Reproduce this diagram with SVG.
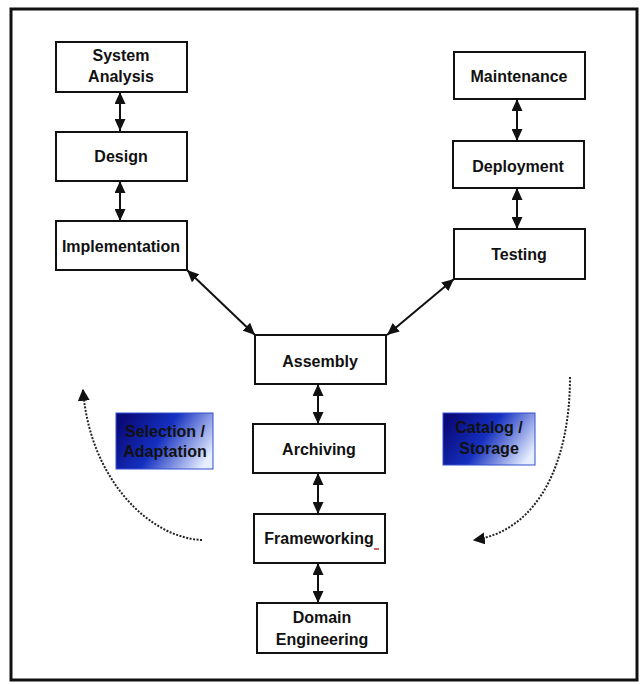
<svg xmlns="http://www.w3.org/2000/svg" width="642" height="685" viewBox="0 0 642 685">
<style>
.box{fill:#fff;stroke:#111;stroke-width:2}
.t{font-family:"Liberation Sans",Arial,sans-serif;font-weight:bold;font-size:16px;fill:#111;text-anchor:middle}
.c{fill:none;stroke:#111;stroke-width:2;marker-start:url(#ah);marker-end:url(#ah)}
.d{fill:none;stroke:#222;stroke-width:2;stroke-dasharray:2 1.5;marker-end:url(#ah2)}
.g{stroke:#3050d0;stroke-width:1}
</style>
<defs>
<marker id="ah" viewBox="0 0 10 10" refX="10" refY="5" markerWidth="12" markerHeight="11" markerUnits="userSpaceOnUse" orient="auto-start-reverse" preserveAspectRatio="none">
<path d="M0,0 L10,5 L0,10 z" fill="#111"/>
</marker>
<marker id="ah2" viewBox="0 0 10 10" refX="9" refY="5" markerWidth="12" markerHeight="12" markerUnits="userSpaceOnUse" orient="auto">
<path d="M0,0 L10,5 L0,10 z" fill="#111"/>
</marker>
<linearGradient id="grad" x1="0" y1="0.3" x2="1" y2="0.7">
<stop offset="0" stop-color="#0a0a7a"/>
<stop offset="0.45" stop-color="#1530c0"/>
<stop offset="1" stop-color="#e6eeff"/>
</linearGradient>
</defs>
<rect x="0" y="0" width="642" height="685" fill="#fff"/>
<rect x="11" y="9" width="626" height="671" fill="none" stroke="#111" stroke-width="3"/>

<g id="connectors">
<line class="c" x1="120" y1="92" x2="120" y2="131"/>
<line class="c" x1="120" y1="181" x2="120" y2="221"/>
<line class="c" x1="517" y1="99" x2="517" y2="141"/>
<line class="c" x1="517" y1="188" x2="517" y2="229"/>
<line class="c" x1="318" y1="384" x2="318" y2="424"/>
<line class="c" x1="318" y1="473" x2="318" y2="514"/>
<line class="c" x1="318" y1="563" x2="318" y2="603"/>
<line class="c" x1="187" y1="270" x2="255" y2="335"/>
<line class="c" x1="454" y1="279" x2="387" y2="335"/>
<path class="d" d="M202,540 C150,538 90,480 83,390"/>
<path class="d" d="M570,377 C570,460 540,530 474,540"/>
</g>

<g id="system-analysis"><rect class="box" x="56" y="42" width="131" height="50"/><text class="t" x="121" y="61">System</text><text class="t" x="121" y="82">Analysis</text></g>
<g id="design"><rect class="box" x="56" y="132" width="131" height="49"/><text class="t" x="121" y="162">Design</text></g>
<g id="implementation"><rect class="box" x="56" y="221" width="131" height="49"/><text class="t" x="121" y="252">Implementation</text></g>
<g id="maintenance"><rect class="box" x="454" y="52" width="131" height="47"/><text class="t" x="519" y="82">Maintenance</text></g>
<g id="deployment"><rect class="box" x="453" y="141" width="131" height="47"/><text class="t" x="518" y="172">Deployment</text></g>
<g id="testing"><rect class="box" x="454" y="229" width="131" height="50"/><text class="t" x="519" y="260">Testing</text></g>
<g id="assembly"><rect class="box" x="255" y="335" width="131" height="49"/><text class="t" x="320" y="367">Assembly</text></g>
<g id="archiving"><rect class="box" x="253" y="424" width="132" height="49"/><text class="t" x="319" y="455">Archiving</text></g>
<g id="frameworking"><rect class="box" x="254" y="514" width="131" height="49"/><text class="t" x="319" y="544">Frameworking</text><line x1="374" y1="549" x2="379" y2="549" stroke="#c03030" stroke-width="1.5"/></g>
<g id="domain-engineering"><rect class="box" x="257" y="603" width="130" height="50"/><text class="t" x="322" y="623">Domain</text><text class="t" x="322" y="645">Engineering</text></g>
<g id="selection-adaptation"><rect class="g" x="116" y="413" width="97" height="56" fill="url(#grad)"/><text class="t" x="165" y="437">Selection /</text><text class="t" x="165" y="457">Adaptation</text></g>
<g id="catalog-storage"><rect class="g" x="443" y="413" width="92" height="52" fill="url(#grad)"/><text class="t" x="489" y="433">Catalog /</text><text class="t" x="489" y="454">Storage</text></g>
</svg>
